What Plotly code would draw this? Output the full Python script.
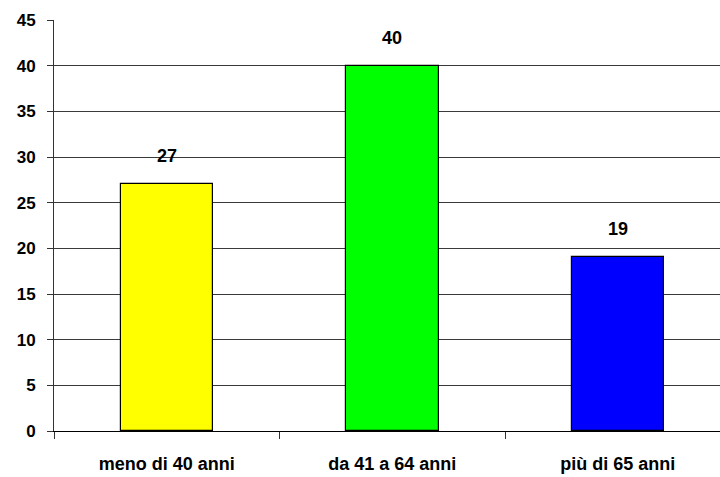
import plotly.graph_objects as go

categories = ["meno di 40 anni", "da 41 a 64 anni", "più di 65 anni"]
values = [27, 40, 19]
colors = ["#FFFF00", "#00FF00", "#0000FF"]
y_ticks = [0, 5, 10, 15, 20, 25, 30, 35, 40, 45]

font = "Liberation Sans, Arial, sans-serif"

fig = go.Figure(go.Bar(
    x=categories, y=values,
    marker=dict(color=colors, line=dict(color="black", width=1.2)),
    width=0.41,
    hoverinfo="skip",
))

for c, v in zip(categories, values):
    fig.add_annotation(
        x=c, y=v, text=str(v), showarrow=False,
        yanchor="bottom", yshift=16,
        font=dict(family=font, size=18, color="black", weight="bold"),
    )

fig.update_layout(
    width=720, height=477,
    margin=dict(l=54, r=0, t=20, b=46),
    paper_bgcolor="white", plot_bgcolor="white",
    showlegend=False,
    font=dict(family=font, size=17, color="black", weight="bold"),
    bargap=0,
)
fig.update_xaxes(
    type="category", range=[-0.5, 2.453],
    tickson="boundaries", ticks="outside", ticklen=7, tickcolor="#333",
    showline=True, linecolor="black", linewidth=1,
    showgrid=False, automargin=False,
    ticklabelstandoff=16,
    tickfont=dict(family=font, size=18, color="black", weight="bold"),
)
fig.update_yaxes(
    range=[0, 45], tickvals=y_ticks,
    ticks="outside", ticklen=6, tickcolor="#333",
    showline=True, linecolor="#333", linewidth=1,
    showgrid=True, gridcolor="#3a3a3a", gridwidth=1,
    zeroline=True, zerolinecolor="black", zerolinewidth=1,
    automargin=False,
    ticklabelstandoff=8,
    tickfont=dict(family=font, size=17, color="black", weight="bold"),
)

fig.write_html("out.html", config={"displayModeBar": False},
               post_script="document.body.style.margin='0px';")
